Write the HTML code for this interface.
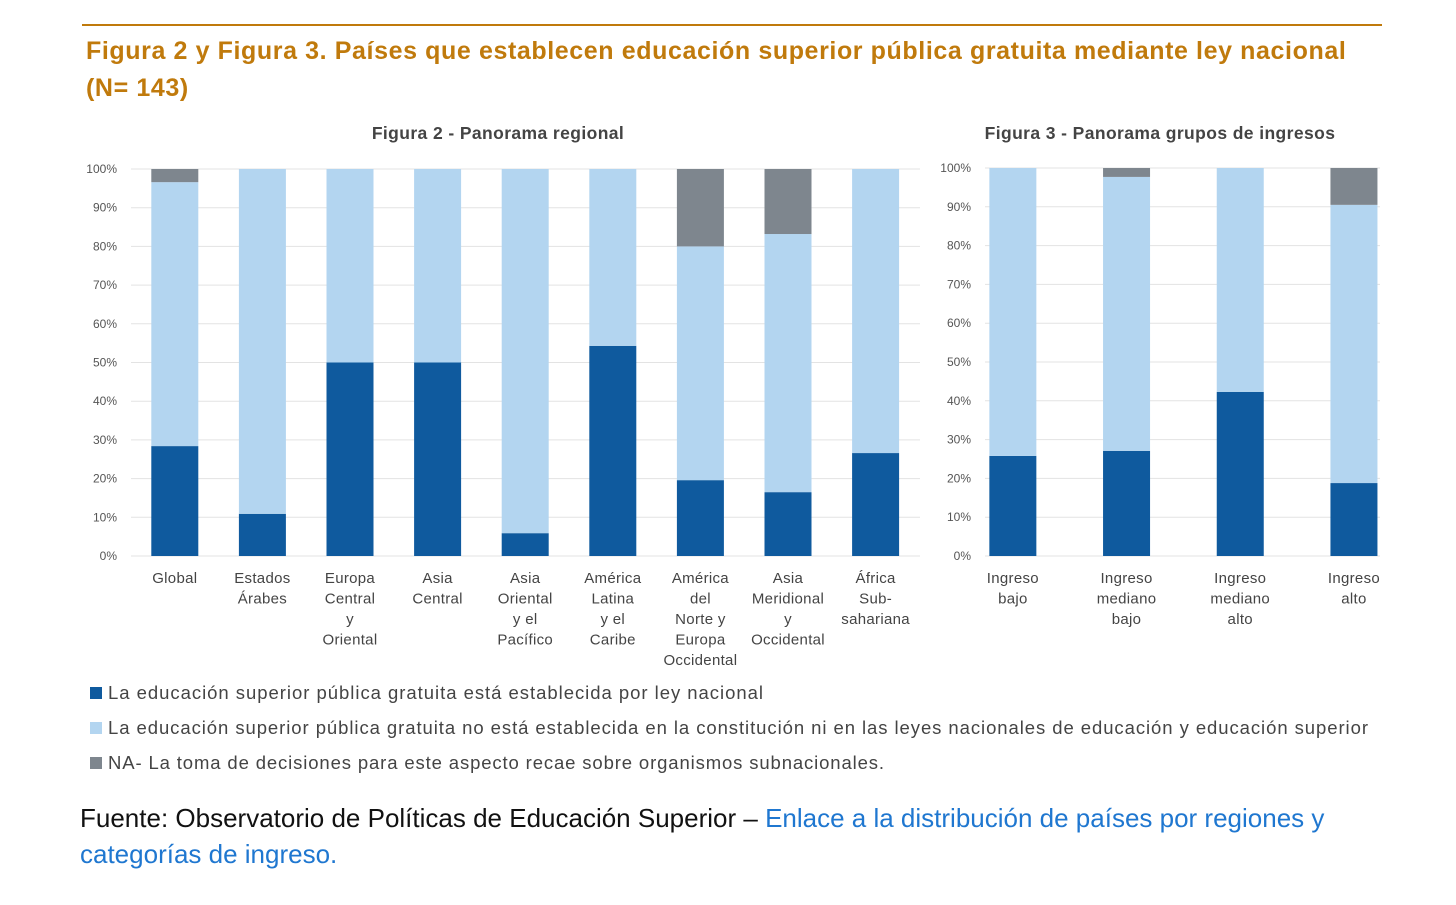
<!DOCTYPE html>
<html><head><meta charset="utf-8"><style>
body{margin:0;background:#fff;width:1456px;height:905px;overflow:hidden;font-family:"Liberation Sans",sans-serif;}
#wrap{position:relative;width:1456px;height:905px;}
.title{position:absolute;left:86px;top:33px;width:1310px;color:#c07a0c;font-weight:bold;font-size:25px;line-height:37px;letter-spacing:0.6px;}
.src{position:absolute;left:80px;top:800px;font-size:26px;line-height:36px;color:#111;width:1300px;}
.src a{color:#1f77d0;text-decoration:none;}
svg text{font-family:"Liberation Sans",sans-serif;}
</style></head><body>
<div id="wrap">
<div style="position:absolute;left:82px;top:24px;width:1300px;height:2px;background:#c07a0c"></div>
<div class="title">Figura 2 y Figura 3. Países que establecen educación superior pública gratuita mediante ley nacional<br>(N= 143)</div>
<svg id="chart" width="1456" height="905" style="position:absolute;left:0;top:0"></svg>
<div class="src">Fuente: Observatorio de Políticas de Educación Superior – <a>Enlace a la distribución de países por regiones y categorías de ingreso.</a></div>
</div>
<script>
const regions=[["Global"],["Estados","Árabes"],["Europa","Central","y","Oriental"],["Asia","Central"],["Asia","Oriental","y el","Pacífico"],["América","Latina","y el","Caribe"],["América","del","Norte y","Europa","Occidental"],["Asia","Meridional","y","Occidental"],["África","Sub-","sahariana"]];
const regLaw=[28.4,10.9,50,50,5.9,54.3,19.6,16.5,26.6];
const regNo=[68.2,89.1,50,50,94.1,45.7,60.4,66.7,73.4];
const regNA=[3.4,0,0,0,0,0,20,16.8,0];
const incomes=[["Ingreso","bajo"],["Ingreso","mediano","bajo"],["Ingreso","mediano","alto"],["Ingreso","alto"]];
const incLaw=[25.8,27.1,42.3,18.8];
const incNo=[74.2,70.6,57.7,71.7];
const incNA=[0,2.3,0,9.5];
const ticks=[0,10,20,30,40,50,60,70,80,90,100];
const C=["#0f5a9e","#b3d5f0","#7e868e"];
const svg=document.getElementById('chart');
const NS="http://www.w3.org/2000/svg";
function mk(t,a,txt){const e=document.createElementNS(NS,t);for(const k in a)e.setAttribute(k,a[k]);if(txt!=null)e.textContent=txt;svg.appendChild(e);return e;}
function chart(o){
  const y=v=>o.y0-(v/100)*(o.y0-o.y1);
  ticks.forEach(t=>{
    const l=mk('line',{x1:o.gx0,x2:o.gx1,y1:y(t),y2:y(t),stroke:'#e3e3e3','stroke-width':1});
    
    const tx=mk('text',{x:o.lx,y:y(t)+4,'text-anchor':'end','font-size':12,fill:'#555'},t+'%');
    
  });
  const band=o.band;
  o.cats.forEach((c,i)=>{
    const cx=o.bx+band*(i+0.5);
    let acc=0;
    [o.s1[i],o.s2[i],o.s3[i]].forEach((v,k)=>{
      if(v<=0)return;
      const r=mk('rect',{x:cx-23.5,width:47,y:y(acc+v),height:y(acc)-y(acc+v),fill:C[k]});
      
      acc+=v;
    });
    c.forEach((w,j)=>{
      const t=mk('text',{x:cx,y:o.y0+27+j*20.5,'text-anchor':'middle','font-size':15,fill:'#444','letter-spacing':'0.3'},w);
      
    });
  });
  const tt=mk('text',{x:o.tx,y:139,'text-anchor':'middle','font-size':17.5,'font-weight':'bold',fill:'#444','letter-spacing':'0.4'},o.title);
  
}
chart({cats:regions,s1:regLaw,s2:regNo,s3:regNA,y0:556,y1:169,gx0:131,gx1:920,lx:117,bx:131,band:87.6,tx:498,title:'Figura 2 - Panorama regional'});
chart({cats:incomes,s1:incLaw,s2:incNo,s3:incNA,y0:556,y1:168,gx0:985,gx1:1380,lx:971,bx:956,band:113.7,tx:1160,title:'Figura 3 - Panorama grupos de ingresos'});
const leg=["La educación superior pública gratuita está establecida por ley nacional","La educación superior pública gratuita no está establecida en la constitución ni en las leyes nacionales de educación y educación superior","NA- La toma de decisiones para este aspecto recae sobre organismos subnacionales."];
const legLen=[655,1260,776];
leg.forEach((s,i)=>{
  const yy=693+i*35;
  const r=mk('rect',{x:90,y:yy-6,width:12,height:12,fill:C[i]});
  
  const t=mk('text',{x:108,y:yy+6,'font-size':18.5,fill:'#444',textLength:legLen[i],lengthAdjust:'spacing'},s);
  
});
</script>
</body></html>
